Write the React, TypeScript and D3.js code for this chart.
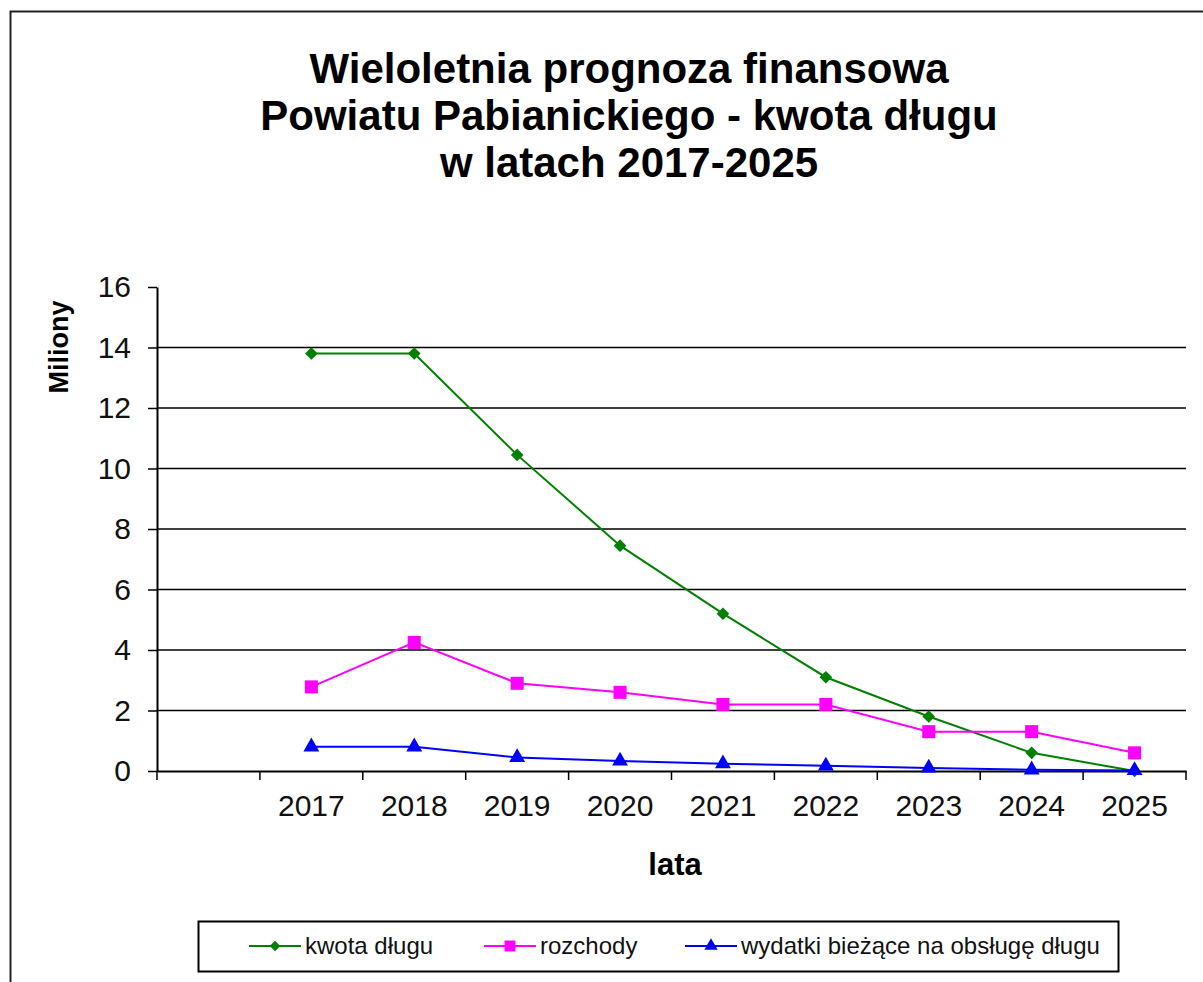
import React, { useEffect, useRef } from 'react';
import * as d3 from 'd3';

const years = ['', '2017', '2018', '2019', '2020', '2021', '2022', '2023', '2024', '2025'];
const kwotaDlugu = [13.8, 13.8, 10.45, 7.45, 5.2, 3.1, 1.8, 0.6, 0.0];
const rozchody = [2.78, 4.25, 2.9, 2.6, 2.2, 2.2, 1.3, 1.3, 0.6];
const wydatki = [0.8, 0.8, 0.45, 0.33, 0.24, 0.17, 0.1, 0.04, 0.02];
const yTicks = [0, 2, 4, 6, 8, 10, 12, 14, 16];
const titleLines = ['Wieloletnia prognoza finansowa', 'Powiatu Pabianickiego - kwota długu', 'w latach 2017-2025'];

const series = [
  { name: 'kwota długu', values: kwotaDlugu, color: '#008000', symbol: d3.symbolSquare, size: 80, rotate: 45 },
  { name: 'rozchody', values: rozchody, color: '#ff00ff', symbol: d3.symbolSquare, size: 170, rotate: 0 },
  { name: 'wydatki bieżące na obsługę długu', values: wydatki, color: '#0000ff', symbol: d3.symbolTriangle, size: 110, rotate: 0 },
];

const App = () => {
  const svgRef = useRef<SVGSVGElement>(null);

  useEffect(() => {
    const svg = d3.select(svgRef.current);
    svg.selectAll('*').remove();
    const font = '"Liberation Sans", Arial, sans-serif';

    // outer frame
    svg.append('rect')
      .attr('x', 10.5).attr('y', 11.5)
      .attr('width', 1200).attr('height', 1000)
      .attr('fill', 'white').attr('stroke', '#222').attr('stroke-width', 2);

    const title = svg.append('text')
      .attr('text-anchor', 'middle')
      .attr('font-family', font)
      .attr('font-weight', 'bold')
      .attr('font-size', 42);
    titleLines.forEach((t, i) => {
      title.append('tspan').attr('x', 629).attr('y', 83 + i * 47).text(t);
    });

    const left = 157, right = 1186, top = 287, bottom = 771;

    const x = d3.scaleBand().domain(years).range([left, right]);
    const y = d3.scaleLinear().domain([0, 16]).range([bottom, top]);

    // gridlines
    svg.append('g')
      .selectAll('line')
      .data(yTicks.filter(d => d > 0 && d < 16))
      .enter().append('line')
      .attr('x1', left).attr('x2', right)
      .attr('y1', d => y(d)).attr('y2', d => y(d))
      .attr('stroke', '#000').attr('stroke-width', 1.5);

    const yAxis = svg.append('g')
      .attr('transform', `translate(${left},0)`)
      .call(d3.axisLeft(y).tickValues(yTicks).tickSize(9).tickSizeOuter(0).tickPadding(17));
    yAxis.select('.domain').attr('stroke', '#000').attr('stroke-width', 2);
    yAxis.selectAll('line').attr('stroke', '#000').attr('stroke-width', 1.5);
    yAxis.selectAll('text').attr('font-family', font).attr('font-size', 30).attr('fill', '#111');

    const xAxis = svg.append('g')
      .attr('transform', `translate(0,${bottom})`)
      .call(d3.axisBottom(x).tickSize(0).tickPadding(24));
    xAxis.select('.domain').attr('stroke', '#000').attr('stroke-width', 2);
    xAxis.selectAll('text').attr('font-family', font).attr('font-size', 30).attr('fill', '#111');

    // category boundary ticks
    svg.append('g')
      .selectAll('line')
      .data(d3.range(years.length + 1))
      .enter().append('line')
      .attr('x1', i => left + i * x.step()).attr('x2', i => left + i * x.step())
      .attr('y1', bottom).attr('y2', bottom + 9)
      .attr('stroke', '#000').attr('stroke-width', 1.5);

    svg.append('text')
      .attr('x', 675).attr('y', 875)
      .attr('text-anchor', 'middle')
      .attr('font-family', font).attr('font-weight', 'bold').attr('font-size', 31)
      .text('lata');

    svg.append('text')
      .attr('transform', 'translate(68,347) rotate(-90)')
      .attr('text-anchor', 'middle')
      .attr('font-family', font).attr('font-weight', 'bold').attr('font-size', 27)
      .text('Miliony');

    const cx = (i: number) => (x(years[i + 1]) as number) + x.bandwidth() / 2;

    const line = d3.line<number>()
      .x((_, i) => cx(i))
      .y(d => y(d));

    series.forEach(s => {
      svg.append('path')
        .attr('d', line(s.values))
        .attr('fill', 'none')
        .attr('stroke', s.color)
        .attr('stroke-width', 2);
      svg.append('g')
        .selectAll('path')
        .data(s.values)
        .enter().append('path')
        .attr('transform', (d, i) => `translate(${cx(i)},${y(d)}) rotate(${s.rotate})`)
        .attr('d', d3.symbol().type(s.symbol).size(s.size)())
        .attr('fill', s.color);
    });

    // legend
    const legend = svg.append('g');
    legend.append('rect')
      .attr('x', 198.5).attr('y', 921.5)
      .attr('width', 920).attr('height', 50)
      .attr('fill', 'white').attr('stroke', '#000').attr('stroke-width', 2);
    const legendX = [249, 484, 685];
    series.forEach((s, i) => {
      const g = legend.append('g').attr('transform', `translate(${legendX[i]},946)`);
      g.append('line').attr('x1', 0).attr('x2', 52).attr('stroke', s.color).attr('stroke-width', 2);
      g.append('path')
        .attr('transform', `translate(26,0) rotate(${s.rotate})`)
        .attr('d', d3.symbol().type(s.symbol).size(s.size * 0.7)())
        .attr('fill', s.color);
      g.append('text')
        .attr('x', 56).attr('y', 8)
        .attr('font-family', font).attr('font-size', 24).attr('fill', '#111')
        .text(s.name);
    });
  }, []);

  return (
    <svg ref={svgRef} width={1203} height={982} style={{ position: 'absolute', left: 0, top: 0 }}></svg>
  );
};

export default App;
